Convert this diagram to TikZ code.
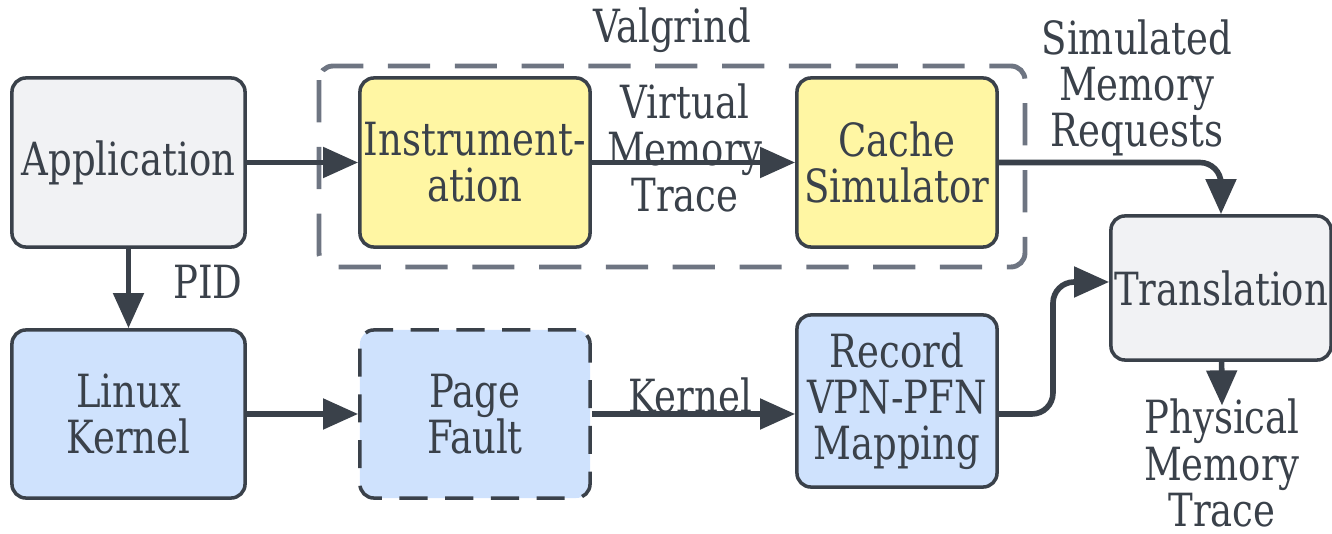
\documentclass[tikz,border=0pt]{standalone}
\usepackage{fontspec}
\setmainfont{DejaVu Serif Condensed}[FakeStretch=0.9]
\usetikzlibrary{arrows.meta}
\definecolor{ink}{HTML}{3A414A}
\definecolor{grayfill}{HTML}{F1F2F4}
\definecolor{yellowfill}{HTML}{FFF6A3}
\definecolor{bluefill}{HTML}{CFE2FD}
\definecolor{groupline}{HTML}{6E7582}
\begin{document}
\begin{tikzpicture}[x=0.01cm,y=-0.01cm,
  every node/.style={font=\fontsize{13pt}{13.1pt}\selectfont, text=ink, align=center, inner sep=1pt},
  box/.style={draw=ink, line width=1pt, rounded corners=4pt, inner sep=0pt},
  graybox/.style={box, fill=grayfill},
  yellowbox/.style={box, fill=yellowfill},
  bluebox/.style={box, fill=bluefill},
  dashbox/.style={bluebox, dash pattern=on 8pt off 5pt},
  arr/.style={draw=ink, line width=1.6pt, -{Triangle[length=10pt,width=8.5pt]}},
  lbl/.style={}
]
\useasboundingbox (0,0) rectangle (1332,534);

\draw[groupline, line width=1.4pt, dash pattern=on 12pt off 7pt, rounded corners=4pt]
  (319,66) rectangle (1025,267);
\node[lbl] (valg) at (672,30) {Valgrind};

\node[graybox, minimum width=2.33cm, minimum height=1.69cm] (app) at (128.5,162.5) {Application};
\node[yellowbox, minimum width=2.30cm, minimum height=1.69cm] (instr) at (475,162.5) {Instrument-\\ation};
\node[yellowbox, minimum width=2.00cm, minimum height=1.69cm] (cache) at (897,162.5) {Cache\\Simulator};
\node[graybox, minimum width=2.20cm, minimum height=1.44cm] (trans) at (1221,288) {Translation};
\node[bluebox, minimum width=2.33cm, minimum height=1.68cm] (lk) at (128.5,414) {Linux\\Kernel};
\node[dashbox, minimum width=2.30cm, minimum height=1.68cm] (pf) at (475,414) {Page\\Fault};
\node[bluebox, minimum width=2.00cm, minimum height=1.72cm] (rec) at (897,401) {Record\\VPN-PFN\\Mapping};

\node[lbl] (vmt) at (685,148) {Virtual\\Memory\\Trace};
\node[lbl] (pid) at (208,282) {PID};
\node[lbl] (kern) at (690,395) {Kernel};
\node[lbl] (smr) at (1137,88) {Simulated\\Memory\\Requests};
\node[lbl, inner sep=0pt] (phys) at (1222,463) {Physical\\Memory\\Trace};

\coordinate (jr) at (1053,282);

\draw[arr] (app) -- (instr);
\draw[arr] (instr) -- (cache);
\draw[arr, rounded corners=6pt] (cache.east) -| (trans.north);
\draw[arr] (app) -- (lk);
\draw[arr] (lk) -- (pf);
\draw[arr] (pf.east) -- (pf.east -| rec.west);
\draw[arr, rounded corners=6pt] (pf.east -| rec.east) -- (pf.east -| jr) -- (jr) -- (jr -| trans.west);
\draw[arr] (trans) -- ([yshift=-2pt]phys.north);
\end{tikzpicture}
\end{document}
